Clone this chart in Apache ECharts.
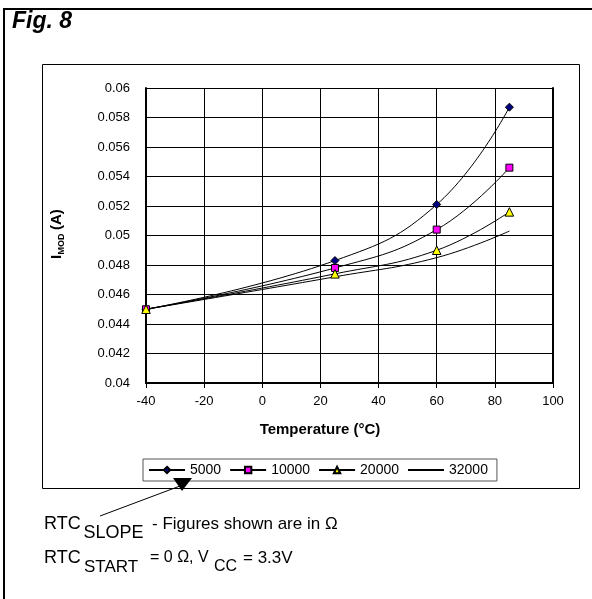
<!DOCTYPE html>
<html><head><meta charset="utf-8">
<script src="https://cdn.jsdelivr.net/npm/echarts@6.0.0/dist/echarts.min.js"></script>
<style>html,body{margin:0;padding:0;background:#fff}#c{width:592px;height:599px}</style>
</head><body><div id="c"></div>
<script>
// ---- data ----
const temperatures = [-40, 25, 60, 85];
const seriesNames = ['5000', '10000', '20000', '32000'];
const imod5000  = [0.0450, 0.0483, 0.0521, 0.0587];
const imod10000 = [0.0450, 0.0478, 0.0504, 0.0546];
const imod20000 = [0.0450, 0.0474, 0.0490, 0.0516];
const imod32000 = [0.0450, 0.0472, 0.0485, 0.0503];
const xTickRange = [-40, 100, 20];
const yTickRange = [0.04, 0.06, 0.002];

const FONT = '"Liberation Sans", Arial, sans-serif';
const pairs = v => temperatures.map((t, i) => [t, v[i]]);

function txt(x, y, s, size, opts) {
  opts = opts || {};
  return { type: 'text', x: x, y: y, z: 100,
    style: { text: s, fontSize: size, fontFamily: FONT, fontWeight: opts.weight || 'normal',
      fontStyle: opts.style || 'normal', fill: '#000', align: opts.align || 'left', verticalAlign: 'middle' } };
}

const chart = echarts.init(document.getElementById('c'), null, { renderer: 'canvas' });

const markerBorder = { borderColor: '#000', borderWidth: 1 };
const lineSty = { color: '#000', width: 1 };

const option = {
  backgroundColor: '#fff',
  animation: false,
  grid: { left: 146, right: 39, top: 88, bottom: 216, outerBoundsMode: 'none', containLabel: false },
  xAxis: {
    type: 'value', min: xTickRange[0], max: xTickRange[1], interval: xTickRange[2],
    axisLine: { show: true, onZero: false, lineStyle: { color: '#000', width: 2 } },
    axisTick: { show: true, length: 5, lineStyle: { color: '#000', width: 1 } },
    axisLabel: { color: '#000', fontSize: 13, fontFamily: FONT, margin: 12 },
    splitLine: { show: true, lineStyle: { color: '#000', width: 1 } }
  },
  yAxis: [{
    type: 'value', min: yTickRange[0], max: yTickRange[1], interval: yTickRange[2],
    axisLine: { show: true, onZero: false, lineStyle: { color: '#000', width: 2 } },
    axisTick: { show: false },
    axisLabel: { color: '#000', fontSize: 13, fontFamily: FONT, margin: 16,
      formatter: v => String(+v.toFixed(3)) },
    splitLine: { show: true, lineStyle: { color: '#000', width: 1 } }
  }, {
    type: 'value', position: 'right', min: yTickRange[0], max: yTickRange[1], interval: yTickRange[2],
    axisLine: { show: true, onZero: false, lineStyle: { color: '#000', width: 2 } },
    axisTick: { show: false }, axisLabel: { show: false }, splitLine: { show: false }
  }],
  legend: {
    left: 143, top: 459, orient: 'horizontal',
    padding: [4, 9, 4, 5], itemGap: 8, itemWidth: 36, itemHeight: 8,
    backgroundColor: '#fff', borderColor: '#555', borderWidth: 1, borderRadius: 0,
    textStyle: { color: '#000', fontSize: 14, fontFamily: FONT },
    data: [
      { name: seriesNames[0] },
      { name: seriesNames[1] },
      { name: seriesNames[2] },
      { name: seriesNames[3], itemStyle: { color: 'rgba(0,0,0,0)', borderWidth: 0, opacity: 0 } }
    ]
  },
  series: [
    { name: seriesNames[0], type: 'line', data: pairs(imod5000), smooth: 0.45,
      symbol: 'diamond', symbolSize: 8, itemStyle: Object.assign({ color: '#000080' }, markerBorder), lineStyle: lineSty },
    { name: seriesNames[1], type: 'line', data: pairs(imod10000), smooth: 0.45,
      symbol: 'rect', symbolSize: 7, itemStyle: Object.assign({ color: '#FF00FF' }, markerBorder), lineStyle: lineSty },
    { name: seriesNames[2], type: 'line', data: pairs(imod20000), smooth: 0.45,
      symbol: 'triangle', symbolSize: 8.5, itemStyle: Object.assign({ color: '#FFFF00' }, markerBorder), lineStyle: lineSty },
    { name: seriesNames[3], type: 'line', data: pairs(imod32000), smooth: 0.45,
      symbol: 'none', showSymbol: false, itemStyle: { color: '#000' }, lineStyle: lineSty }
  ],
  graphic: [
    // outer frame
    { type: 'line', shape: { x1: 3, y1: 9, x2: 592, y2: 9 }, style: { stroke: '#000', lineWidth: 2 }, z: 90 },
    { type: 'line', shape: { x1: 4, y1: 8, x2: 4, y2: 599 }, style: { stroke: '#000', lineWidth: 2 }, z: 90 },
    // chart area box
    { type: 'rect', shape: { x: 42.5, y: 64.5, width: 537, height: 424 }, style: { fill: 'none', stroke: '#000', lineWidth: 1 }, z: -10 },
    txt(12, 22, 'Fig. 8', 23, { weight: 'bold', style: 'italic' }),
    // axis titles
    txt(320, 430, 'Temperature (°C)', 15, { weight: 'bold', align: 'center' }),
    { type: 'group', x: 57, y: 259, rotation: Math.PI / 2, z: 100, children: [
      { type: 'text', x: 0, y: 0, style: { text: 'I', fontSize: 15, fontWeight: 'bold', fontFamily: FONT, fill: '#000', verticalAlign: 'middle' } },
      { type: 'text', x: 4.5, y: 5, style: { text: 'MOD', fontSize: 9, fontWeight: 'bold', fontFamily: FONT, fill: '#000', verticalAlign: 'middle' } },
      { type: 'text', x: 29, y: 0, style: { text: '(A)', fontSize: 15, fontWeight: 'bold', fontFamily: FONT, fill: '#000', verticalAlign: 'middle' } }
    ] },
    // arrow
    { type: 'line', shape: { x1: 100, y1: 516, x2: 180, y2: 486 }, style: { stroke: '#000', lineWidth: 1 }, z: 100 },
    { type: 'polygon', shape: { points: [[173, 478], [192, 478], [182, 491]] }, style: { fill: '#000' }, z: 100 },
    // notes
    txt(44, 524, 'RTC', 18),
    txt(83.5, 533.5, 'SLOPE', 18),
    txt(152, 524, '- Figures shown are in Ω', 17),
    txt(44, 558, 'RTC', 18),
    txt(84, 567, 'START', 17),
    txt(150, 558, '= 0 Ω, V', 16),
    txt(214, 567, 'CC', 16),
    txt(243, 558, '= 3.3V', 17)
  ]
};
chart.setOption(option);
</script></body></html>
